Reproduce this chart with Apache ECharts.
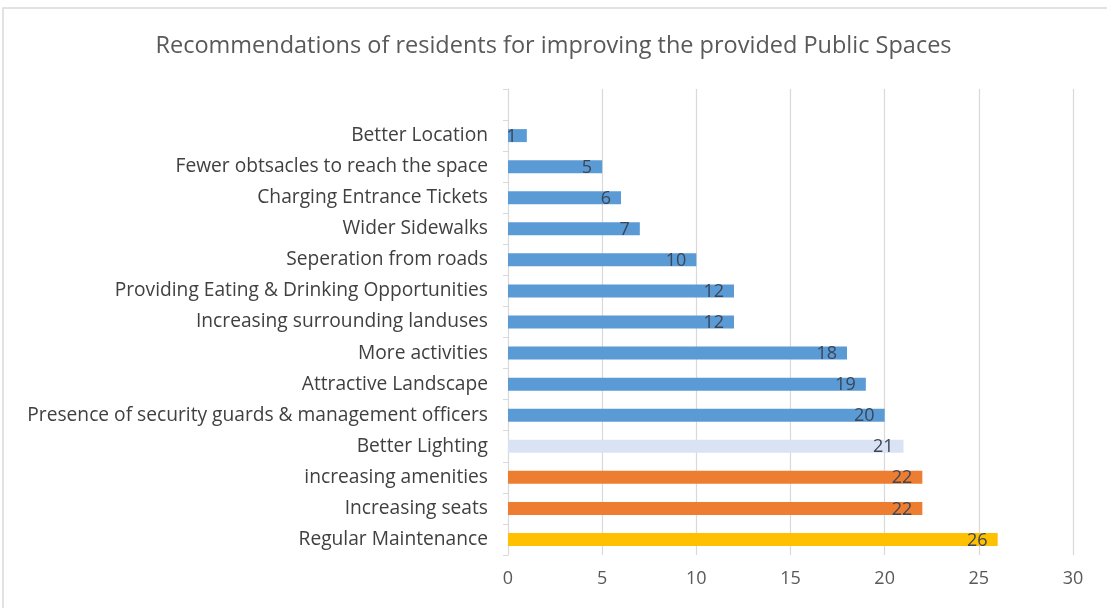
<!DOCTYPE html>
<html><head><meta charset="utf-8">
<script src="https://cdn.jsdelivr.net/npm/echarts@6/dist/echarts.min.js"></script>
<style>html,body{margin:0;padding:0;background:#fff}#c{width:1107px;height:608px}</style>
</head><body><div id="c"></div>
<script>
// bottom-to-top order; the trailing empty slot is the blank row at the top of the plot
const categories = ["Regular Maintenance","Increasing seats","increasing amenities","Better Lighting",
  "Presence of security guards & management officers","Attractive Landscape","More activities",
  "Increasing surrounding landuses","Providing Eating & Drinking Opportunities","Seperation from roads",
  "Wider Sidewalks","Charging Entrance Tickets","Fewer obtsacles to reach the space","Better Location",""];
const values = [26,22,22,21,20,19,18,12,12,10,7,6,5,1,null];
const barColors = ["#FFC000","#ED7D31","#ED7D31","#DAE3F3","#5B9BD5","#5B9BD5","#5B9BD5","#5B9BD5","#5B9BD5","#5B9BD5","#5B9BD5","#5B9BD5","#5B9BD5","#5B9BD5","#5B9BD5"];
const xTicks = {min:0,max:30,interval:5};

const chart = echarts.init(document.getElementById('c'));
chart.setOption({
  backgroundColor:'#fff',
  animation:false,
  title:{text:'Recommendations of residents for improving the provided Public Spaces',left:'center',top:29,
    textStyle:{fontFamily:'Open Sans',fontSize:23.5,fontWeight:'normal',color:'#595959'}},
  graphic:[{type:'rect',shape:{x:3,y:8,width:1120,height:620},style:{fill:'none',stroke:'#D9D9D9',lineWidth:1.5},silent:true}],
  grid:{left:508,right:34,top:89,bottom:53,containLabel:false},
  xAxis:{type:'value',min:xTicks.min,max:xTicks.max,interval:xTicks.interval,
    axisLine:{show:false},axisTick:{show:false},
    axisLabel:{color:'#595959',fontFamily:'Open Sans',fontSize:18,margin:15},
    splitLine:{lineStyle:{color:'#D9D9D9',width:1.2}}},
  yAxis:{type:'category',data:categories,
    axisLine:{lineStyle:{color:'#D9D9D9'}},
    axisTick:{show:true,length:5,lineStyle:{color:'#D9D9D9'}},
    axisLabel:{color:'#404040',fontFamily:'Open Sans',fontSize:19.2,margin:20}},
  series:[{type:'bar',data:values.map((v,i)=>({value:v,itemStyle:{color:barColors[i]}})),
    barWidth:13,
    label:{show:true,position:'insideRight',offset:[-5,1],color:'#3B4656',fontFamily:'Open Sans',fontSize:18}}]
});
</script></body></html>
